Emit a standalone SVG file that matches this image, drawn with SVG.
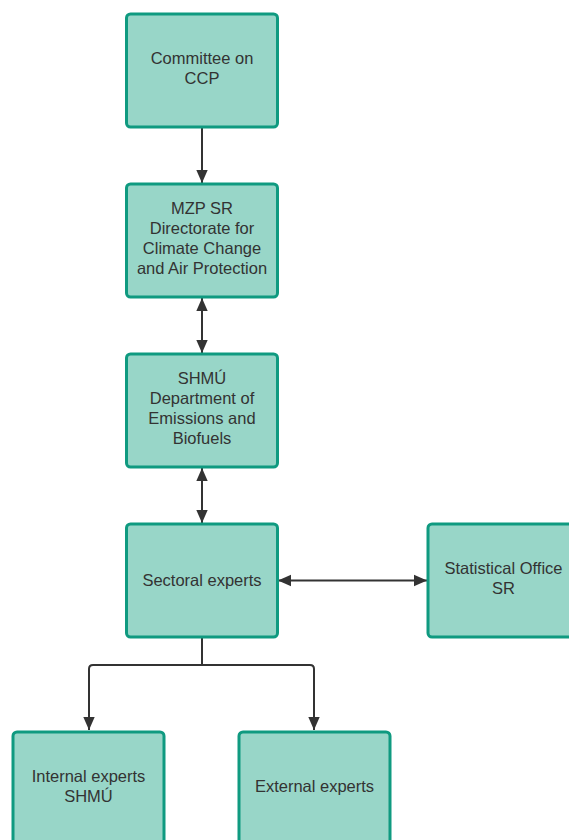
<svg xmlns="http://www.w3.org/2000/svg" width="569" height="840" viewBox="0 0 569 840">
<style>
.box{fill:#98d6c8;stroke:#0f9a80;stroke-width:3}
.t{font-family:"Liberation Sans",Arial,sans-serif;font-size:16.5px;fill:#333;text-anchor:middle}
.c{fill:none;stroke:#333;stroke-width:2}
</style>
<defs>
<marker id="ah" viewBox="0 0 13 13" refX="13" refY="6.5" markerWidth="13" markerHeight="13" markerUnits="userSpaceOnUse" orient="auto-start-reverse">
<path d="M0,0.8 L13,6.5 L0,12.2 Z" fill="#333"/>
</marker>
</defs>
<rect width="569" height="840" fill="#fff"/>
<g id="connectors">
<line class="c" x1="202" y1="128" x2="202" y2="183" marker-end="url(#ah)"/>
<line class="c" x1="202" y1="298" x2="202" y2="353" marker-start="url(#ah)" marker-end="url(#ah)"/>
<line class="c" x1="202" y1="468" x2="202" y2="523" marker-start="url(#ah)" marker-end="url(#ah)"/>
<line class="c" x1="278" y1="580.5" x2="427" y2="580.5" marker-start="url(#ah)" marker-end="url(#ah)"/>
<path class="c" d="M202,638 V665 H93 Q89,665 89,669 V730" marker-end="url(#ah)"/>
<path class="c" d="M202,665 H310 Q314,665 314,669 V730" marker-end="url(#ah)"/>
</g>
<g id="n1"><rect class="box" x="126.5" y="14" width="151" height="113" rx="4"/>
<text class="t" x="202" y="64">Committee on</text><text class="t" x="202" y="84">CCP</text></g>
<g id="n2"><rect class="box" x="126.5" y="184" width="151" height="113" rx="4"/>
<text class="t" x="202" y="214">MZP SR</text><text class="t" x="202" y="234">Directorate for</text><text class="t" x="202" y="254">Climate Change</text><text class="t" x="202" y="274">and Air Protection</text></g>
<g id="n3"><rect class="box" x="126.5" y="354" width="151" height="113" rx="4"/>
<text class="t" x="202" y="384">SHMÚ</text><text class="t" x="202" y="404">Department of</text><text class="t" x="202" y="424">Emissions and</text><text class="t" x="202" y="444">Biofuels</text></g>
<g id="n4"><rect class="box" x="126.5" y="524" width="151" height="113" rx="4"/>
<text class="t" x="202" y="586">Sectoral experts</text></g>
<g id="n5"><rect class="box" x="428" y="524" width="151" height="113" rx="4"/>
<text class="t" x="503.5" y="574">Statistical Office</text><text class="t" x="503.5" y="594">SR</text></g>
<g id="n6"><rect class="box" x="13" y="732" width="151" height="113" rx="4"/>
<text class="t" x="88.5" y="782">Internal experts</text><text class="t" x="88.5" y="802">SHMÚ</text></g>
<g id="n7"><rect class="box" x="239" y="732" width="151" height="113" rx="4"/>
<text class="t" x="314.5" y="792">External experts</text></g>
</svg>
